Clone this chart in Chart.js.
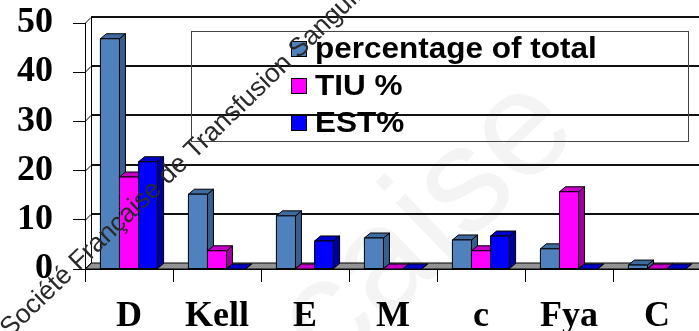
<!DOCTYPE html>
<html>
<head>
<meta charset="utf-8">
<script src="https://cdn.jsdelivr.net/npm/chart.js@4/dist/chart.umd.min.js"></script>
<style>
  html, body { margin: 0; padding: 0; background: #fff; overflow: hidden; }
  canvas { display: block; }
</style>
</head>
<body>
<canvas id="c" width="703" height="331"></canvas>
<script>
// Antigen categories and the three series (percent)
const categories = ['D', 'Kell', 'E', 'M', 'c', 'Fya', 'C'];
const pctTotal = [46.8, 15.2, 10.8, 6.3, 5.9, 4.1, 0.8];
const tiuPct   = [18.7, 3.7, 0, 0, 3.7, 15.7, 0];
const estPct   = [21.8, 0, 5.7, 0, 6.7, 0, 0];
const seriesNames = ['percentage of total', 'TIU %', 'EST%'];
const yTicks = [0, 10, 20, 30, 40, 50];

// face colours: front, top, side
const palette = [
  { front: '#4F81BD', top: '#3E6A9E', side: '#385E8C' },
  { front: '#FF00FF', top: '#C400C4', side: '#A000A0' },
  { front: '#0000FF', top: '#0000C8', side: '#0000A0' }
];

const DEPTH_X = 6, BAR_DY = -5, WALL_DY = -6;

function poly(ctx, pts, fill) {
  ctx.beginPath();
  ctx.moveTo(pts[0][0], pts[0][1]);
  for (let i = 1; i < pts.length; i++) ctx.lineTo(pts[i][0], pts[i][1]);
  ctx.closePath();
  ctx.fillStyle = fill;
  ctx.fill();
  ctx.stroke();
}

const wallPlugin = {
  id: 'walls',
  beforeDraw(chart) {
    const ctx = chart.ctx;
    ctx.save();
    ctx.fillStyle = '#fff';
    ctx.fillRect(0, 0, chart.width, chart.height);
    // faint large background lettering
    ctx.translate(553, 104);
    ctx.rotate(-44 * Math.PI / 180);
    ctx.font = '150px "Liberation Sans"';
    ctx.fillStyle = 'rgba(0,0,0,0.045)';
    ctx.textBaseline = 'middle';
    ctx.textAlign = 'right';
    ctx.fillText('Française', 0, 0);
    ctx.restore();
  },
  beforeDatasetsDraw(chart) {
    const ctx = chart.ctx;
    const { left, right, top, bottom } = chart.chartArea;
    const ys = chart.scales.y;
    ctx.save();
    // floor
    ctx.lineWidth = 1;
    ctx.strokeStyle = '#000';
    poly(ctx, [[left, bottom], [right, bottom], [right + DEPTH_X, bottom + WALL_DY], [left + DEPTH_X, bottom + WALL_DY]], '#939393');
    // back wall gridlines
    ctx.strokeStyle = '#111';
    ctx.lineWidth = 2;
    yTicks.forEach(v => {
      const y = Math.round(ys.getPixelForValue(v)) + WALL_DY;
      if (v > 0) {
        ctx.beginPath();
        ctx.moveTo(left + DEPTH_X, y);
        ctx.lineTo(chart.width, y);
        ctx.stroke();
      }
    });
    // left side wall
    ctx.lineWidth = 1;
    ctx.strokeStyle = '#000';
    ctx.beginPath();
    ctx.moveTo(left + DEPTH_X + 0.5, top + WALL_DY);
    ctx.lineTo(left + DEPTH_X + 0.5, bottom + WALL_DY);
    ctx.stroke();
    yTicks.forEach(v => {
      const y = Math.round(ys.getPixelForValue(v)) + 0.5;
      ctx.beginPath();
      ctx.moveTo(left, y);
      ctx.lineTo(left + DEPTH_X, y + WALL_DY);
      ctx.stroke();
    });
    ctx.restore();
  },
  afterDatasetsDraw(chart) {
    const ctx = chart.ctx;
    ctx.save();
    ctx.lineWidth = 1;
    ctx.strokeStyle = '#000';
    ctx.lineJoin = 'miter';
    const metas = chart.data.datasets.map((d, i) => chart.getDatasetMeta(i));
    for (let j = 0; j < categories.length; j++) {
      metas.forEach((meta, i) => {
        const el = meta.data[j];
        const c = palette[i];
        const x0 = el.x - el.width / 2, x1 = el.x + el.width / 2;
        const yT = el.y, yB = el.base;
        // side face
        poly(ctx, [[x1, yT], [x1 + DEPTH_X, yT + BAR_DY], [x1 + DEPTH_X, yB + BAR_DY], [x1, yB]], c.side);
        // top face
        poly(ctx, [[x0, yT], [x1, yT], [x1 + DEPTH_X, yT + BAR_DY], [x0 + DEPTH_X, yT + BAR_DY]], c.top);
        // front face
        if (yB - yT > 0.5) {
          poly(ctx, [[x0, yT], [x1, yT], [x1, yB], [x0, yB]], c.front);
        }
      });
    }
    ctx.restore();

    // legend
    ctx.save();
    ctx.strokeStyle = '#444';
    ctx.lineWidth = 1;
    ctx.strokeRect(191.5, 31.5, 497, 110);
    const rowY = [49, 86, 123];
    chart.data.datasets.forEach((d, i) => {
      ctx.fillStyle = palette[i].front;
      ctx.fillRect(291, rowY[i] - 8, 16, 16);
      ctx.strokeStyle = '#000';
      ctx.strokeRect(291.5, rowY[i] - 7.5, 15, 15);
      ctx.save();
      ctx.translate(315, rowY[i] + 1);
      ctx.scale(1.05, 1);
      ctx.font = 'bold 30px "Liberation Sans"';
      ctx.textBaseline = 'middle';
      ctx.fillStyle = '#000';
      ctx.fillText(d.label, 0, 0);
      ctx.restore();
    });
    ctx.restore();
  },
  afterDraw(chart) {
    const ctx = chart.ctx;
    ctx.save();
    ctx.translate(10, 338);
    ctx.rotate(-44 * Math.PI / 180);
    ctx.font = '26.5px "Liberation Sans"';
    ctx.fillStyle = '#2a2a2a';
    ctx.textBaseline = 'alphabetic';
    ctx.fillText('Société Française de Transfusion Sanguine', 0, 0);
    ctx.restore();
  }
};

const tickFont = { family: '"Liberation Serif"', weight: 'bold', size: 36 };

new Chart(document.getElementById('c'), {
  type: 'bar',
  data: {
    labels: categories,
    datasets: [pctTotal, tiuPct, estPct].map((vals, i) => ({
      label: seriesNames[i],
      data: vals,
      backgroundColor: 'rgba(0,0,0,0)',
      borderWidth: 0,
      categoryPercentage: 0.65,
      barPercentage: 1.0
    }))
  },
  options: {
    responsive: false,
    animation: false,
    devicePixelRatio: 1,
    layout: { padding: { top: 23, right: 2, left: 0, bottom: 0 } },
    plugins: { legend: { display: false }, tooltip: { enabled: false } },
    scales: {
      x: {
        offset: true,
        grid: { display: true, drawOnChartArea: false, offset: true, tickLength: 13, color: '#000', lineWidth: 1 },
        border: { display: true, color: '#000', width: 1 },
        ticks: { font: tickFont, color: '#000', padding: 13, maxRotation: 0, autoSkip: false },
        afterFit(s) { s.height = 62; s.paddingLeft = 0; s.paddingRight = 0; }
      },
      y: {
        min: 0, max: 50,
        afterBuildTicks(s) { s.ticks = yTicks.map(v => ({ value: v })); },
        grid: { display: true, drawOnChartArea: false, tickLength: 12, color: '#000', lineWidth: 1 },
        border: { display: true, color: '#000', width: 1 },
        ticks: { font: tickFont, color: '#000', padding: 20 },
        afterFit(s) { s.width = 85; s.paddingTop = 0; s.paddingBottom = 0; }
      }
    }
  },
  plugins: [wallPlugin]
});
</script>
</body>
</html>
